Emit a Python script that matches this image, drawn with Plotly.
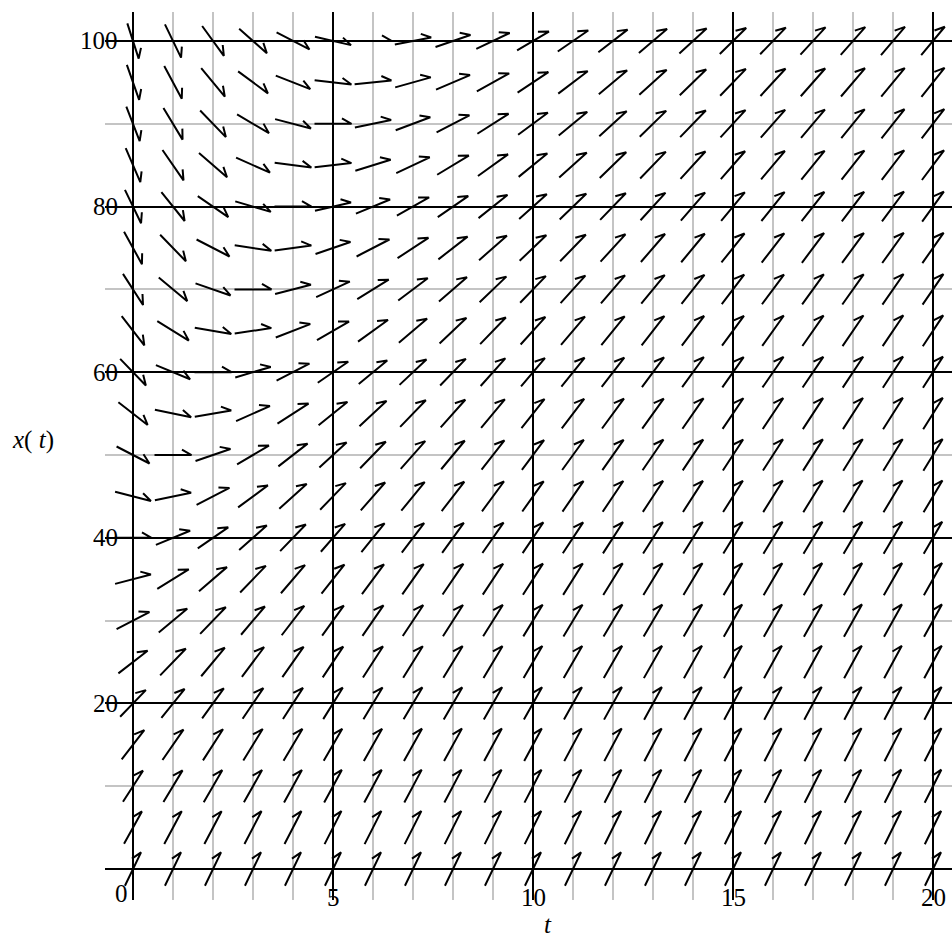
import math
import plotly.graph_objects as go

# Grid of direction-field sample points
t_values = [0, 1, 2, 3, 4, 5, 6, 7, 8, 9, 10, 11, 12, 13, 14, 15, 16, 17, 18, 19, 20]
x_values = [0, 5, 10, 15, 20, 25, 30, 35, 40, 45, 50, 55, 60, 65, 70, 75, 80, 85, 90, 95, 100]

# slopes dx/dt read at each t column, for x = 0, 5, ..., 100
slope_t0 = [10, 8.75, 7.5, 6.25, 5, 3.75, 2.5, 1.25, 0, -1.25, -2.5, -3.75, -5, -6.25, -7.5, -8.75, -10, -11.25, -12.5, -13.75, -15]
slope_t1 = [10, 9, 8, 7, 6, 5, 4, 3, 2, 1, 0, -1, -2, -3, -4, -5, -6, -7, -8, -9, -10]
slope_t2 = [10, 9.17, 8.33, 7.5, 6.67, 5.83, 5, 4.17, 3.33, 2.5, 1.67, 0.83, 0, -0.83, -1.67, -2.5, -3.33, -4.17, -5, -5.83, -6.67]
slope_t3 = [10, 9.29, 8.57, 7.86, 7.14, 6.43, 5.71, 5, 4.29, 3.57, 2.86, 2.14, 1.43, 0.71, 0, -0.71, -1.43, -2.14, -2.86, -3.57, -4.29]
slope_t4 = [10, 9.38, 8.75, 8.13, 7.5, 6.88, 6.25, 5.63, 5, 4.38, 3.75, 3.13, 2.5, 1.88, 1.25, 0.63, 0, -0.63, -1.25, -1.88, -2.5]
slope_t5 = [10, 9.44, 8.89, 8.33, 7.78, 7.22, 6.67, 6.11, 5.56, 5, 4.44, 3.89, 3.33, 2.78, 2.22, 1.67, 1.11, 0.56, 0, -0.56, -1.11]
slope_t6 = [10, 9.5, 9, 8.5, 8, 7.5, 7, 6.5, 6, 5.5, 5, 4.5, 4, 3.5, 3, 2.5, 2, 1.5, 1, 0.5, 0]
slope_t7 = [10, 9.55, 9.09, 8.64, 8.18, 7.73, 7.27, 6.82, 6.36, 5.91, 5.45, 5, 4.55, 4.09, 3.64, 3.18, 2.73, 2.27, 1.82, 1.36, 0.91]
slope_t8 = [10, 9.58, 9.17, 8.75, 8.33, 7.92, 7.5, 7.08, 6.67, 6.25, 5.83, 5.42, 5, 4.58, 4.17, 3.75, 3.33, 2.92, 2.5, 2.08, 1.67]
slope_t9 = [10, 9.62, 9.23, 8.85, 8.46, 8.08, 7.69, 7.31, 6.92, 6.54, 6.15, 5.77, 5.38, 5, 4.62, 4.23, 3.85, 3.46, 3.08, 2.69, 2.31]
slope_t10 = [10, 9.64, 9.29, 8.93, 8.57, 8.21, 7.86, 7.5, 7.14, 6.79, 6.43, 6.07, 5.71, 5.36, 5, 4.64, 4.29, 3.93, 3.57, 3.21, 2.86]
slope_t11 = [10, 9.67, 9.33, 9, 8.67, 8.33, 8, 7.67, 7.33, 7, 6.67, 6.33, 6, 5.67, 5.33, 5, 4.67, 4.33, 4, 3.67, 3.33]
slope_t12 = [10, 9.69, 9.38, 9.06, 8.75, 8.44, 8.13, 7.81, 7.5, 7.19, 6.88, 6.56, 6.25, 5.94, 5.63, 5.31, 5, 4.69, 4.38, 4.06, 3.75]
slope_t13 = [10, 9.71, 9.41, 9.12, 8.82, 8.53, 8.24, 7.94, 7.65, 7.35, 7.06, 6.76, 6.47, 6.18, 5.88, 5.59, 5.29, 5, 4.71, 4.41, 4.12]
slope_t14 = [10, 9.72, 9.44, 9.17, 8.89, 8.61, 8.33, 8.06, 7.78, 7.5, 7.22, 6.94, 6.67, 6.39, 6.11, 5.83, 5.56, 5.28, 5, 4.72, 4.44]
slope_t15 = [10, 9.74, 9.47, 9.21, 8.95, 8.68, 8.42, 8.16, 7.89, 7.63, 7.37, 7.11, 6.84, 6.58, 6.32, 6.05, 5.79, 5.53, 5.26, 5, 4.74]
slope_t16 = [10, 9.75, 9.5, 9.25, 9, 8.75, 8.5, 8.25, 8, 7.75, 7.5, 7.25, 7, 6.75, 6.5, 6.25, 6, 5.75, 5.5, 5.25, 5]
slope_t17 = [10, 9.76, 9.52, 9.29, 9.05, 8.81, 8.57, 8.33, 8.1, 7.86, 7.62, 7.38, 7.14, 6.9, 6.67, 6.43, 6.19, 5.95, 5.71, 5.48, 5.24]
slope_t18 = [10, 9.77, 9.55, 9.32, 9.09, 8.86, 8.64, 8.41, 8.18, 7.95, 7.73, 7.5, 7.27, 7.05, 6.82, 6.59, 6.36, 6.14, 5.91, 5.68, 5.45]
slope_t19 = [10, 9.78, 9.57, 9.35, 9.13, 8.91, 8.7, 8.48, 8.26, 8.04, 7.83, 7.61, 7.39, 7.17, 6.96, 6.74, 6.52, 6.3, 6.09, 5.87, 5.65]
slope_t20 = [10, 9.79, 9.58, 9.38, 9.17, 8.96, 8.75, 8.54, 8.33, 8.13, 7.92, 7.71, 7.5, 7.29, 7.08, 6.88, 6.67, 6.46, 6.25, 6.04, 5.83]

slope_columns = [slope_t0, slope_t1, slope_t2, slope_t3, slope_t4, slope_t5, slope_t6,
                 slope_t7, slope_t8, slope_t9, slope_t10, slope_t11, slope_t12, slope_t13,
                 slope_t14, slope_t15, slope_t16, slope_t17, slope_t18, slope_t19, slope_t20]

x_ticks = [0, 5, 10, 15, 20]
y_ticks = [20, 40, 60, 80, 100]

# ---- layout geometry ----
W, H = 952, 941
ML, MR, MT, MB = 105, 0, 12, 41
t_range = [-0.7, 20.475]
x_range = [-3.74, 103.5]
pw = W - ML - MR
ph = H - MT - MB
sx = pw / (t_range[1] - t_range[0])   # px per t unit
sy = ph / (x_range[1] - x_range[0])   # px per x unit

ARROW_PX = 37.0
BARB_PX = 11.0
BARB_ANG = math.radians(30)

ax, ay = [], []
for t, col in zip(t_values, slope_columns):
    for xv, s in zip(x_values, col):
        dx_px, dy_px = 1.0, s * sy / sx
        n = math.hypot(dx_px, dy_px)
        ux, uy = dx_px / n, dy_px / n
        hx, hy = ux * ARROW_PX / 2, uy * ARROW_PX / 2
        tail = (t - hx / sx, xv - hy / sy)
        tip = (t + hx / sx, xv + hy / sy)
        rx, ry = -ux, -uy
        c, sn = math.cos(BARB_ANG), math.sin(BARB_ANG)
        bx = rx * c + ry * sn
        by = -rx * sn + ry * c
        barb = (tip[0] + bx * BARB_PX / sx, tip[1] + by * BARB_PX / sy)
        ax += [tail[0], tip[0], barb[0], None]
        ay += [tail[1], tip[1], barb[1], None]

fig = go.Figure()
fig.add_trace(go.Scatter(x=ax, y=ay, mode="lines",
                         line=dict(color="black", width=2),
                         hoverinfo="skip", showlegend=False, cliponaxis=False))

FONT = "Liberation Serif, Times New Roman, serif"
FS = 25
ann = []
for v in y_ticks:
    ann.append(dict(x=-0.33, y=v, xref="x", yref="y", text=str(v), showarrow=False,
                    xanchor="right", yanchor="middle", font=dict(family=FONT, size=FS, color="black")))
for v in x_ticks:
    if v == 0:
        ann.append(dict(x=-0.3, y=-3.0, xref="x", yref="y", text="0", showarrow=False,
                        xanchor="center", yanchor="middle", font=dict(family=FONT, size=FS, color="black")))
    else:
        ann.append(dict(x=v, y=-3.4, xref="x", yref="y", text=str(v), showarrow=False,
                        xanchor="center", yanchor="middle", font=dict(family=FONT, size=FS, color="black")))
ann.append(dict(x=(33 - ML) / pw, y=(H - MB - 440) / ph, xref="paper", yref="paper",
                text="<i>x</i>( <i>t</i>)", showarrow=False, xanchor="center", yanchor="middle",
                font=dict(family=FONT, size=FS, color="black")))
ann.append(dict(x=(548 - ML) / pw, y=(H - MB - 924) / ph, xref="paper", yref="paper",
                text="<i>t</i>", showarrow=False, xanchor="center", yanchor="middle",
                font=dict(family=FONT, size=FS, color="black")))

fig.update_layout(
    width=W, height=H,
    margin=dict(l=ML, r=MR, t=MT, b=MB, pad=0),
    paper_bgcolor="white", plot_bgcolor="white",
    annotations=ann,
    xaxis=dict(range=t_range, tick0=0, dtick=5, showgrid=True, gridcolor="black", gridwidth=2,
               minor=dict(tick0=0, dtick=1, showgrid=True, gridcolor="#c4c4c4", gridwidth=2),
               zeroline=False, showticklabels=False, ticks="", showline=False, fixedrange=True),
    yaxis=dict(range=x_range, tick0=0, dtick=20, showgrid=True, gridcolor="black", gridwidth=2,
               minor=dict(tick0=0, dtick=10, showgrid=True, gridcolor="#c4c4c4", gridwidth=2),
               zeroline=False, showticklabels=False, ticks="", showline=False, fixedrange=True),
)

fig.write_html("out.html", config={"displayModeBar": False},
               post_script="document.body.style.margin='0';document.body.style.overflow='hidden';")
